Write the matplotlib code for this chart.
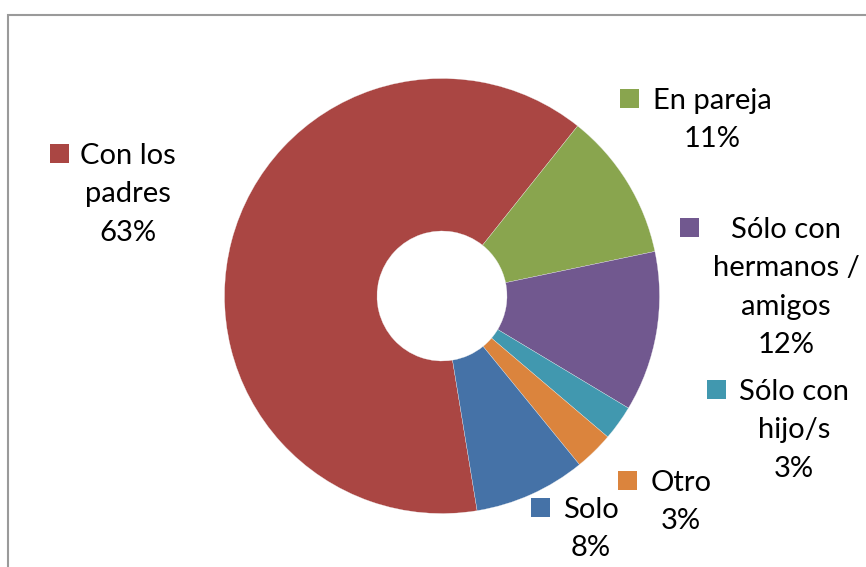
import matplotlib
matplotlib.use("Agg")
import matplotlib.pyplot as plt
from matplotlib.patches import Rectangle

# ---- data ----
categories = ["Con los\npadres", "En pareja", "Sólo con\nhermanos /\namigos",
              "Sólo con\nhijo/s", "Otro", "Solo"]
values = [63.3, 11.0, 11.9, 2.6, 2.9, 8.3]
colors = ["#AA4643", "#89A54E", "#71588F", "#4198AF", "#DB843D", "#4572A7"]

# ---- layout (pixels, top-left origin) ----
W, H = 866, 567
cx, cy, R = 442, 296, 217.5
hole = 65 / 217.5
# label block: (text center x, first baseline y, marker left x)
label_pos = [(128, 164, 50), (712, 109, 620), (786, 238, 680),
             (794, 400, 707), (681, 491, 618), (591, 518, 531)]
line_gap = 38.3
msize = 19
FONT = "Lato"
FS = 21

fig = plt.figure(figsize=(W / 100, H / 100), dpi=100)
fig.patch.set_facecolor("white")

def fx(x):
    return x / W

def fy(y):
    return 1 - y / H

# border
fig.patches.append(Rectangle((fx(8), fy(1000)), fx(1000), fy(15) - fy(1000),
                             transform=fig.transFigure, fill=False,
                             edgecolor="#9a9a9a", linewidth=1.5))

ax = fig.add_axes([fx(cx - R), fy(cy + R), 2 * R / W, 2 * R / H])
ax.pie(values, colors=colors, startangle=279.3, counterclock=False,
       radius=1, wedgeprops=dict(width=1 - hole, edgecolor="#f0f0f0", linewidth=0.2))
ax.set_xlim(-1, 1)
ax.set_ylim(-1, 1)
ax.set_aspect("auto")
ax.axis("off")

for cat, v, col, (tx, by, mx) in zip(categories, values, colors, label_pos):
    lines = cat.split("\n") + [f"{v:.0f}%"]
    for i, ln in enumerate(lines):
        fig.text(fx(tx), fy(by + i * line_gap), ln, ha="center", va="baseline",
                 fontsize=FS, family=FONT, color="black")
    fig.patches.append(Rectangle((fx(mx), fy(by - 1)), msize / W, msize / H,
                                 transform=fig.transFigure, facecolor=col,
                                 edgecolor="none"))

fig.savefig("out.png", dpi=100, facecolor="white")
